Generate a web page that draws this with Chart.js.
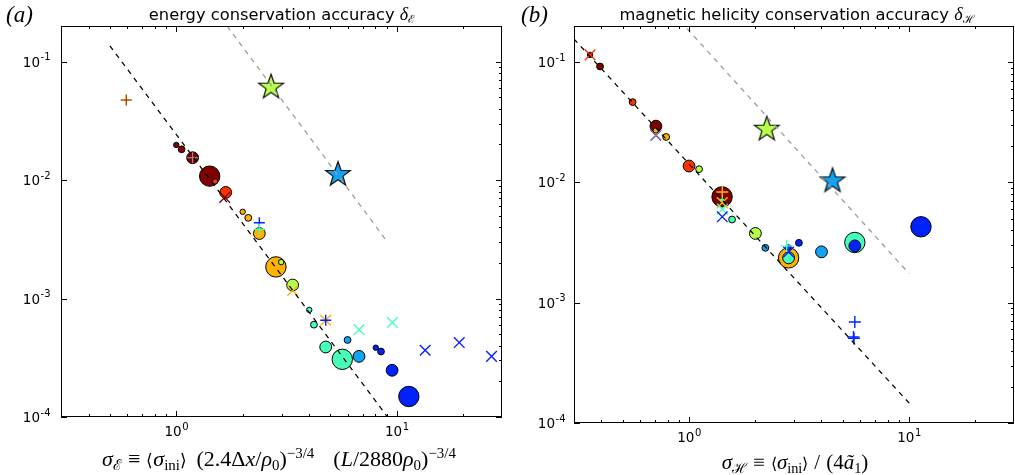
<!DOCTYPE html>
<html>
<head>
<meta charset="utf-8">
<script src="https://cdn.jsdelivr.net/npm/chart.js@4/dist/chart.umd.min.js"></script>
<style>
html, body { margin: 0; padding: 0; background: #fff; overflow: hidden; width: 1015px; height: 475px; }
canvas { position: absolute; top: 0; }
#chartA { left: 0; }
#chartB { left: 508px; }
.txt { position: absolute; white-space: nowrap; color: #000; line-height: 20px; }
.title { font-family: "DejaVu Sans"; font-size: 16.3px; transform: translateX(-50%); }
.math { font-family: "Liberation Serif", serif; }
.math i { font-style: italic; }
.xlabel { font-family: "Liberation Serif", serif; font-size: 21px; transform: translateX(-50%); }
.wide { font-size: 22px; word-spacing: 4px; }
.op { margin: 0 6px; }
.panel { font-family: "Liberation Serif", serif; font-style: italic; font-size: 23px; }
sub, sup { font-size: 68%; line-height: 0; }
sub { vertical-align: -0.3em; }
sup { vertical-align: 0.55em; }
.small { font-size: 75%; }
</style>
</head>
<body>
<canvas id="chartA" width="507" height="475"></canvas>
<canvas id="chartB" width="507" height="475"></canvas>

<div class="txt panel" style="left:6px; top:5px;">(a)</div>
<div class="txt panel" style="left:521px; top:5px;">(b)</div>
<div class="txt title" style="left:282px; top:4px;">energy conservation accuracy <span class="math"><i style="font-size:18px">δ</i><sub>ℰ</sub></span></div>
<div class="txt title" style="left:797px; top:4px;">magnetic helicity conservation accuracy <span class="math"><i style="font-size:18px">δ</i><sub>ℋ</sub></span></div>
<div class="txt xlabel wide" style="left:279px; top:449px;"><i>σ</i><sub>ℰ</sub><span class="op">≡</span><span class="small">⟨</span><i>σ</i><sub>ini</sub><span class="small">⟩</span> (2.4Δ<i>x</i>/<i>ρ</i><sub>0</sub>)<sup>−3/4</sup>&nbsp; (<i>L</i>/2880<i>ρ</i><sub>0</sub>)<sup>−3/4</sup></div>
<div class="txt xlabel" style="left:795px; top:452px;"><i>σ</i><sub>ℋ</sub><span class="op">≡</span><span class="small">⟨</span><i>σ</i><sub>ini</sub><span class="small">⟩</span><span class="op">/</span>(4<i>ã</i><sub>1</sub>)</div>

<script>
// tick values
const xTicks = [1, 10];
const yTicks = [1e-4, 1e-3, 1e-2, 1e-1];

// colour level of each run (0 = dark red ... 6 = blue), resolution class 0..3

// panel (a): circles
const aCircX = [1.0, 1.057, 1.186, 1.417, 1.50, 1.676, 2.00, 2.12, 2.38, 2.83, 2.99, 3.37, 4.01, 4.21, 4.76, 5.66, 5.98, 6.74, 8.03, 8.48, 9.52, 11.34];
const aCircY = [0.0198, 0.0182, 0.01545, 0.0108, 0.00975, 0.00787, 0.0054, 0.0048, 0.00354, 0.00185, 0.00203, 0.0013, 0.000802, 0.000602, 0.00039, 0.000307, 0.000447, 0.000325, 0.000385, 0.000357, 0.000248, 0.000149];
const aCircLevel = [0, 0, 0, 0, 1, 1, 2, 2, 2, 2, 3, 3, 4, 4, 4, 4, 5, 5, 6, 6, 6, 6];
const aCircRes = [0, 1, 2, 3, 0, 2, 0, 1, 2, 3, 0, 2, 0, 1, 2, 3, 1, 2, 0, 1, 2, 3];
// panel (a): plus markers
const aPlusX = [0.593, 0.593, 1.186, 1.186, 2.38, 2.38, 4.76];
const aPlusY = [0.0474, 0.0474, 0.01545, 0.01545, 0.00436, 0.00385, 0.000656];
const aPlusLevel = [2, 0, 6, 2, 6, 4, 6];
// panel (a): cross markers
const aCrossX = [1.658, 3.37, 4.76, 6.74, 9.56, 13.45, 19.2, 26.9];
const aCrossY = [0.00715, 0.00117, 0.000656, 0.000547, 0.000627, 0.000366, 0.000425, 0.000325];
const aCrossLevel = [0, 2, 2, 4, 4, 6, 6, 6];
// panel (a): stars
const aStarX = [2.69, 5.41];
const aStarY = [0.0615, 0.01125];
const aStarLevel = [3, 5];
// panel (a): guide lines
const aFitX = [0.5, 9.07];
const aFitY = [0.136, 1e-4];
const aGuideX = [1.70, 9.07];
const aGuideY = [0.2, 0.003];

// panel (b): circles
const bCircX = [0.355, 0.394, 0.554, 0.707, 0.707, 0.787, 1.0, 1.111, 1.413, 1.413, 1.569, 2.003, 2.223, 2.835, 2.835, 2.835, 3.158, 4.0, 5.67, 5.67, 11.33];
const bCircY = [0.115, 0.0921, 0.0466, 0.0294, 0.0271, 0.0239, 0.0137, 0.0129, 0.00759, 0.00711, 0.00492, 0.00377, 0.00286, 0.00236, 0.00236, 0.00288, 0.00315, 0.00265, 0.00317, 0.00297, 0.00428];
const bCircLevel = [0, 0, 1, 0, 2, 2, 1, 3, 0, 4, 4, 3, 5, 2, 4, 6, 6, 5, 4, 6, 6];
const bCircRes = [0, 1, 1, 2, 0, 1, 2, 1, 3, 0, 1, 2, 1, 3, 2, 0, 1, 2, 3, 2, 3];
// panel (b): plus markers
const bPlusX = [1.416, 2.78, 5.67, 5.59, 5.62];
const bPlusY = [0.00834, 0.00297, 0.000692, 0.000519, 0.000505];
const bPlusLevel = [2, 4, 6, 6, 6];
// panel (b): cross markers
const bCrossX = [0.355, 0.707, 0.707, 1.416, 1.416, 1.416, 2.835];
const bCrossY = [0.115, 0.0247, 0.0247, 0.0068, 0.0060, 0.00518, 0.00264];
const bCrossLevel = [1, 6, 2, 2, 4, 6, 6];
// panel (b): stars
const bStarX = [2.256, 4.49];
const bStarY = [0.028, 0.0104];
const bStarLevel = [3, 5];
// panel (b): guide lines
const bFitX = [0.3, 10.1];
const bFitY = [0.156, 0.000144];
const bGuideX = [0.98, 10.0];
const bGuideY = [0.19, 0.00175];

const levelColors = ['#800000', '#ff3300', '#ffb300', '#b6ff4a', '#48ffb8', '#12a4f4', '#0022ff'];
const resRadius = [2.7, 3.4, 5.9, 10.2];

function pts(xs, ys) {
    return xs.map((x, i) => ({ x: x, y: ys[i] }));
}

function starImage(color) {
    const c = document.createElement('canvas');
    c.width = 30;
    c.height = 30;
    const g = c.getContext('2d');
    g.beginPath();
    for (let k = 0; k < 10; k++) {
        const r = k % 2 === 0 ? 13 : 5.2;
        const a = -Math.PI / 2 + k * Math.PI / 5;
        const px = 15 + r * Math.cos(a), py = 15.5 + r * Math.sin(a);
        if (k === 0) g.moveTo(px, py); else g.lineTo(px, py);
    }
    g.closePath();
    g.fillStyle = color;
    g.fill();
    g.lineWidth = 1.2;
    g.strokeStyle = '#111';
    g.stroke();
    return c;
}

function circleSets(xs, ys, lv, res) {
    const sets = [];
    for (let r = 3; r >= 0; r--) {
        const idx = xs.map((_, i) => i).filter(i => res[i] === r);
        sets.push({
            data: idx.map(i => ({ x: xs[i], y: ys[i] })),
            pointRadius: resRadius[r],
            pointBackgroundColor: idx.map(i => levelColors[lv[i]]),
            pointBorderColor: '#000',
            pointBorderWidth: 1,
            order: 10 + r
        });
    }
    return sets;
}

function markerSet(xs, ys, lv, style, radius) {
    return {
        data: pts(xs, ys),
        pointStyle: style,
        pointRadius: radius,
        pointBorderColor: lv.map(l => levelColors[l]),
        pointBackgroundColor: 'rgba(0,0,0,0)',
        pointBorderWidth: lv.map((l, i) => (i > 0 && xs[i] === xs[i - 1] && ys[i] === ys[i - 1]) ? 0.8 : 1.4),
        order: 5
    };
}

function starSet(xs, ys, lv) {
    return {
        data: pts(xs, ys),
        pointStyle: lv.map(l => starImage(levelColors[l])),
        pointRadius: 13,
        order: 3
    };
}

function lineSet(xs, ys, color) {
    return {
        data: pts(xs, ys),
        showLine: true,
        borderColor: color,
        borderWidth: 1.25,
        borderDash: [5, 5],
        pointRadius: 0,
        order: 1
    };
}

function minorValues(min, max) {
    const out = [];
    for (let d = Math.floor(Math.log10(min)); d <= Math.ceil(Math.log10(max)); d++) {
        for (let m = 2; m <= 9; m++) {
            const v = m * Math.pow(10, d);
            if (v > min && v < max) out.push(v);
        }
    }
    return out;
}

function drawPower(ctx, v, x, y, align) {
    const e = Math.round(Math.log10(v));
    const main = '10', sup = e < 0 ? '-' + (-e) : String(e);
    ctx.font = '13.5px "DejaVu Sans"';
    const wm = ctx.measureText(main).width;
    ctx.font = '10px "DejaVu Sans"';
    const ws = ctx.measureText(sup).width;
    const x0 = align === 'right' ? x - wm - ws : x - (wm + ws) / 2;
    ctx.textAlign = 'left';
    ctx.textBaseline = 'alphabetic';
    ctx.font = '13.5px "DejaVu Sans"';
    ctx.fillText(main, x0, y);
    ctx.font = '10px "DejaVu Sans"';
    ctx.fillText(sup, x0 + wm + 0.5, y - 6.5);
}

const framePlugin = {
    id: 'frame',
    afterDraw(chart, args, opts) {
        const { ctx, chartArea: a, scales: { x, y } } = chart;
        ctx.save();
        ctx.strokeStyle = '#000';
        ctx.fillStyle = '#000';
        ctx.lineWidth = 1;
        ctx.strokeRect(a.left + 0.5, a.top + 0.5, a.right - a.left - 1, a.bottom - a.top - 1);
        ctx.beginPath();
        xTicks.forEach(v => {
            const px = Math.round(x.getPixelForValue(v)) + 0.5;
            ctx.moveTo(px, a.bottom); ctx.lineTo(px, a.bottom - 6);
            ctx.moveTo(px, a.top); ctx.lineTo(px, a.top + 6);
        });
        minorValues(x.min, x.max).forEach(v => {
            const px = Math.round(x.getPixelForValue(v)) + 0.5;
            ctx.moveTo(px, a.bottom); ctx.lineTo(px, a.bottom - 3);
            ctx.moveTo(px, a.top); ctx.lineTo(px, a.top + 3);
        });
        yTicks.forEach(v => {
            const py = Math.round(y.getPixelForValue(v)) + 0.5;
            ctx.moveTo(a.left, py); ctx.lineTo(a.left + 6, py);
            ctx.moveTo(a.right, py); ctx.lineTo(a.right - 6, py);
        });
        minorValues(y.min, y.max).forEach(v => {
            const py = Math.round(y.getPixelForValue(v)) + 0.5;
            ctx.moveTo(a.right, py); ctx.lineTo(a.right - 3, py);
        });
        ctx.stroke();
        xTicks.forEach(v => drawPower(ctx, v, x.getPixelForValue(v), a.bottom + 19, 'center'));
        yTicks.forEach(v => drawPower(ctx, v, a.left - opts.gap, y.getPixelForValue(v) + 5, 'right'));
        ctx.restore();
    }
};

function makeChart(id, datasets, yAxisWidth, padding, yMax, gap) {
    return new Chart(document.getElementById(id), {
        type: 'scatter',
        data: { datasets: datasets },
        options: {
            responsive: false,
            animation: false,
            events: [],
            layout: { padding: padding, autoPadding: false },
            plugins: { legend: { display: false }, tooltip: { enabled: false }, frame: { gap: gap } },
            scales: {
                x: {
                    type: 'logarithmic', min: 0.3, max: 30,
                    grid: { display: false }, border: { display: false }, ticks: { display: false },
                    afterBuildTicks: s => { s.ticks = xTicks.map(v => ({ value: v })); },
                    afterFit: s => { s.height = 30; }
                },
                y: {
                    type: 'logarithmic', min: 1e-4, max: yMax,
                    grid: { display: false }, border: { display: false }, ticks: { display: false },
                    afterBuildTicks: s => { s.ticks = yTicks.map(v => ({ value: v })); },
                    afterFit: s => { s.width = yAxisWidth; }
                }
            }
        },
        plugins: [framePlugin]
    });
}

const setsA = [
    lineSet(aFitX, aFitY, '#000'),
    lineSet(aGuideX, aGuideY, '#999'),
    starSet(aStarX, aStarY, aStarLevel),
    markerSet(aPlusX, aPlusY, aPlusLevel, 'cross', 5.5),
    markerSet(aCrossX, aCrossY, aCrossLevel, 'crossRot', 7.5),
    ...circleSets(aCircX, aCircY, aCircLevel, aCircRes)
];
const setsB = [
    lineSet(bFitX, bFitY, '#000'),
    lineSet(bGuideX, bGuideY, '#999'),
    starSet(bStarX, bStarY, bStarLevel),
    markerSet(bPlusX, bPlusY, bPlusLevel, 'cross', 6),
    markerSet(bCrossX, bCrossY, bCrossLevel, 'crossRot', 7.5),
    ...circleSets(bCircX, bCircY, bCircLevel, bCircRes)
];

makeChart('chartA', setsA, 61, { top: 26, right: 5, bottom: 28, left: 0 }, 0.2, 11);
makeChart('chartB', setsB, 66, { top: 26, right: 1, bottom: 22, left: 0 }, 0.2, 9);
</script>
</body>
</html>
